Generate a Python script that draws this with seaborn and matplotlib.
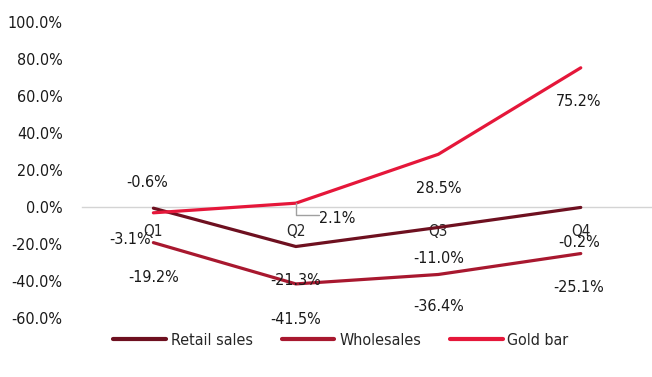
import matplotlib
matplotlib.use("Agg")
import matplotlib.pyplot as plt
import seaborn as sns
import pandas as pd
from matplotlib import font_manager

quarters = ["Q1", "Q2", "Q3", "Q4"]
retail_sales = [-0.6, -21.3, -11.0, -0.2]
wholesales = [-19.2, -41.5, -36.4, -25.1]
gold_bar = [-3.1, 2.1, 28.5, 75.2]
series_names = ["Retail sales", "Wholesales", "Gold bar"]
y_ticks = [-60, -40, -20, 0, 20, 40, 60, 80, 100]

colors = {"Retail sales": "#6E1020", "Wholesales": "#A8182F", "Gold bar": "#E5173A"}

sns.set_theme(style="white")
names = {f.name for f in font_manager.fontManager.ttflist}
family = [f for f in ["Liberation Sans Narrow", "DejaVu Sans Condensed", "DejaVu Sans"] if f in names]
plt.rcParams["font.family"] = family
plt.rcParams["font.stretch"] = "condensed"

df = pd.DataFrame({
    "quarter": quarters * 3,
    "pos": list(range(len(quarters))) * 3,
    "series": [s for s in series_names for _ in quarters],
    "value": retail_sales + wholesales + gold_bar,
})

fig = plt.figure(figsize=(6.52, 3.77), dpi=100)
ax = fig.add_axes([0.126, 0.156, 0.874, 0.786])

sns.lineplot(data=df, x="pos", y="value", hue="series", hue_order=series_names,
             palette=colors, linewidth=2.3, ax=ax, legend=True, sort=False)

ax.set_xlim(-0.5, 3.5)
ax.set_ylim(-60, 100)
ax.set_yticks(y_ticks)
ax.set_yticklabels([f"{v:.1f}%" for v in y_ticks], fontsize=11.5, color="#1a1a1a")
ax.tick_params(axis="y", length=0, pad=14)

ax.set_xticks(range(len(quarters)))
ax.set_xticklabels(quarters, fontsize=11.5, color="#1a1a1a")
ax.tick_params(axis="x", length=0, pad=12)
ax.spines["bottom"].set_position(("data", 0))
ax.spines["bottom"].set_color("#D4D4D4")
ax.spines["bottom"].set_linewidth(1.0)
ax.spines["bottom"].set_zorder(0)
for s in ["left", "right", "top"]:
    ax.spines[s].set_visible(False)
ax.set_xlabel("")
ax.set_ylabel("")

# label offsets in pixels (dx, dy), dy positive = downward
offsets = {
    "Retail sales": [(-6, -26), (0, 34), (0, 31), (-2, 35)],
    "Wholesales": [(0, 35), (0, 36), (0, 32), (-2, 34)],
    "Gold bar": [(-23, 27), (41, 15), (0, 34), (-2, 34)],
}
values = {"Retail sales": retail_sales, "Wholesales": wholesales, "Gold bar": gold_bar}
for name in series_names:
    for i, v in enumerate(values[name]):
        dx, dy = offsets[name][i]
        ax.annotate(f"{v:.1f}%", xy=(i, v), xytext=(dx, -dy), textcoords="offset pixels",
                    ha="center", va="center", fontsize=11.5, color="#1a1a1a", zorder=5)

# leader line for the Q2 gold bar label
ax.annotate("", xy=(1, gold_bar[1]), xytext=(23, -12), textcoords="offset pixels",
            arrowprops=dict(arrowstyle="-", color="#A0A0A0", lw=1.0,
                            connectionstyle="angle,angleA=0,angleB=90,rad=0",
                            shrinkA=0, shrinkB=0))

handles, labels = ax.get_legend_handles_labels()
ax.get_legend().remove()
leg = fig.legend(handles, labels, loc="center", bbox_to_anchor=(0.523, 0.098),
                 ncol=3, frameon=False, fontsize=11.5, handlelength=3.3, handletextpad=0.3,
                 columnspacing=1.8)
for line in leg.get_lines():
    line.set_linewidth(3)

fig.savefig("out.png", dpi=100)
